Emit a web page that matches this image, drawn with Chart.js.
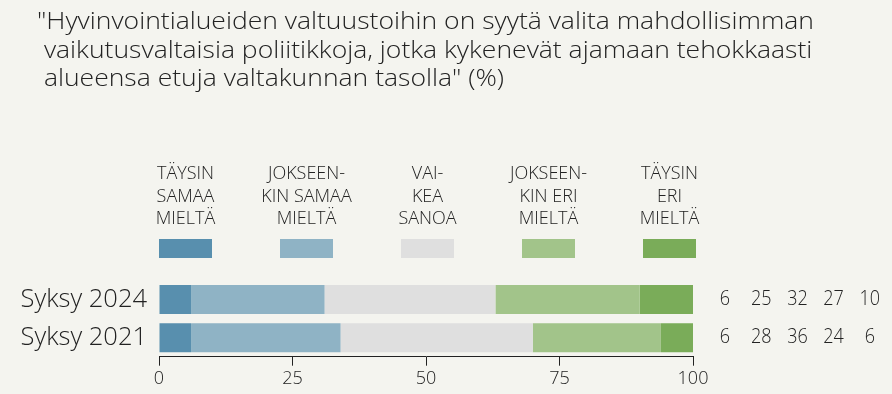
<!DOCTYPE html>
<html>
<head>
<meta charset="utf-8">
<script src="https://cdn.jsdelivr.net/npm/chart.js@4"></script>
<style>
  body { margin: 0; background: #f4f4ef; }
  canvas { display: block; }
</style>
</head>
<body>
<canvas id="chart" width="892" height="394"></canvas>
<script>
// data
const categories = ['Syksy 2024', 'Syksy 2021'];
const seriesNames = [
    ['TÄYSIN', 'SAMAA', 'MIELTÄ'],
    ['JOKSEEN-', 'KIN SAMAA', 'MIELTÄ'],
    ['VAI-', 'KEA', 'SANOA'],
    ['JOKSEEN-', 'KIN ERI', 'MIELTÄ'],
    ['TÄYSIN', 'ERI', 'MIELTÄ']
];
const taysinSamaa = [6, 6];
const jokseenkinSamaa = [25, 28];
const vaikeaSanoa = [32, 36];
const jokseenkinEri = [27, 24];
const taysinEri = [10, 6];
const xTicks = [0, 25, 50, 75, 100];
const titleLines = [
    '"Hyvinvointialueiden valtuustoihin on syytä valita mahdollisimman',
    ' vaikutusvaltaisia poliitikkoja, jotka kykenevät ajamaan tehokkaasti',
    ' alueensa etuja valtakunnan tasolla" (%)'
];

const colors = ['#588fae', '#8fb3c5', '#dfdfdf', '#a2c48a', '#7aac59'];
const allValues = [taysinSamaa, jokseenkinSamaa, vaikeaSanoa, jokseenkinEri, taysinEri];
const FONT = '"Open Sans", sans-serif';

// title, legend and the numbers on the right
const extras = {
    id: 'extras',
    afterDraw(chart) {
        const ctx = chart.ctx;
        const area = chart.chartArea;
        ctx.save();

        // title, squeezed a little like the original narrow font
        ctx.font = '300 24px ' + FONT;
        ctx.fillStyle = '#222';
        ctx.textBaseline = 'alphabetic';
        ctx.textAlign = 'left';
        const sx = 777 / ctx.measureText(titleLines[0]).width;
        titleLines.forEach((line, i) => {
            ctx.save();
            ctx.translate(37, 29 + i * 28.5);
            ctx.scale(sx, 1);
            ctx.fillText(line, 0, 0);
            ctx.restore();
        });

        // legend
        ctx.font = '300 18px ' + FONT;
        ctx.fillStyle = '#222';
        ctx.textAlign = 'center';
        chart.data.datasets.forEach((ds, i) => {
            const cx = area.left + 26.5 + i * 121;
            seriesNames[i].forEach((t, j) => {
                ctx.fillText(t, cx, 179 + j * 22.5);
            });
            ctx.fillStyle = ds.backgroundColor;
            ctx.fillRect(cx - 26.5, 239, 53, 19);
            ctx.fillStyle = '#222';
        });

        // values to the right
        ctx.font = '300 20px ' + FONT;
        ctx.fillStyle = '#222';
        ctx.textBaseline = 'middle';
        const yScale = chart.scales.y;
        categories.forEach((c, r) => {
            const y = yScale.getPixelForValue(r);
            allValues.forEach((vals, i) => {
                ctx.save();
                ctx.translate(725 + i * 36.2, y);
                ctx.scale(0.9, 1);
                ctx.fillText(String(vals[r]), 0, 0);
                ctx.restore();
            });
        });
        ctx.restore();
    }
};

new Chart(document.getElementById('chart'), {
    type: 'bar',
    data: {
        labels: categories,
        datasets: allValues.map((vals, i) => ({
            label: seriesNames[i].join(' '),
            data: vals,
            backgroundColor: colors[i],
            borderWidth: 0,
            barPercentage: 0.76,
            categoryPercentage: 1
        }))
    },
    options: {
        indexAxis: 'y',
        responsive: false,
        animation: false,
        layout: { padding: { top: 280.5, right: 199, bottom: 0, left: 0 } },
        plugins: {
            legend: { display: false },
            title: { display: false },
            tooltip: { enabled: false }
        },
        scales: {
            x: {
                stacked: true,
                min: 0,
                max: 100,
                afterBuildTicks: (scale) => { scale.ticks = xTicks.map(v => ({ value: v })); },
                afterFit: (scale) => { scale.height = 37.3; },
                border: { display: true, color: '#222', width: 1 },
                grid: { display: true, drawOnChartArea: false, drawTicks: true, tickLength: 9, color: '#222' },
                ticks: { color: '#222', font: { family: FONT, size: 18, weight: 300 }, padding: 2 }
            },
            y: {
                stacked: true,
                afterFit: (scale) => { scale.width = 159; },
                border: { display: false },
                grid: { display: false, drawTicks: false },
                ticks: { color: '#222', font: { family: FONT, size: 25.5, weight: 300 }, padding: 12 }
            }
        }
    },
    plugins: [extras]
});
</script>
</body>
</html>
